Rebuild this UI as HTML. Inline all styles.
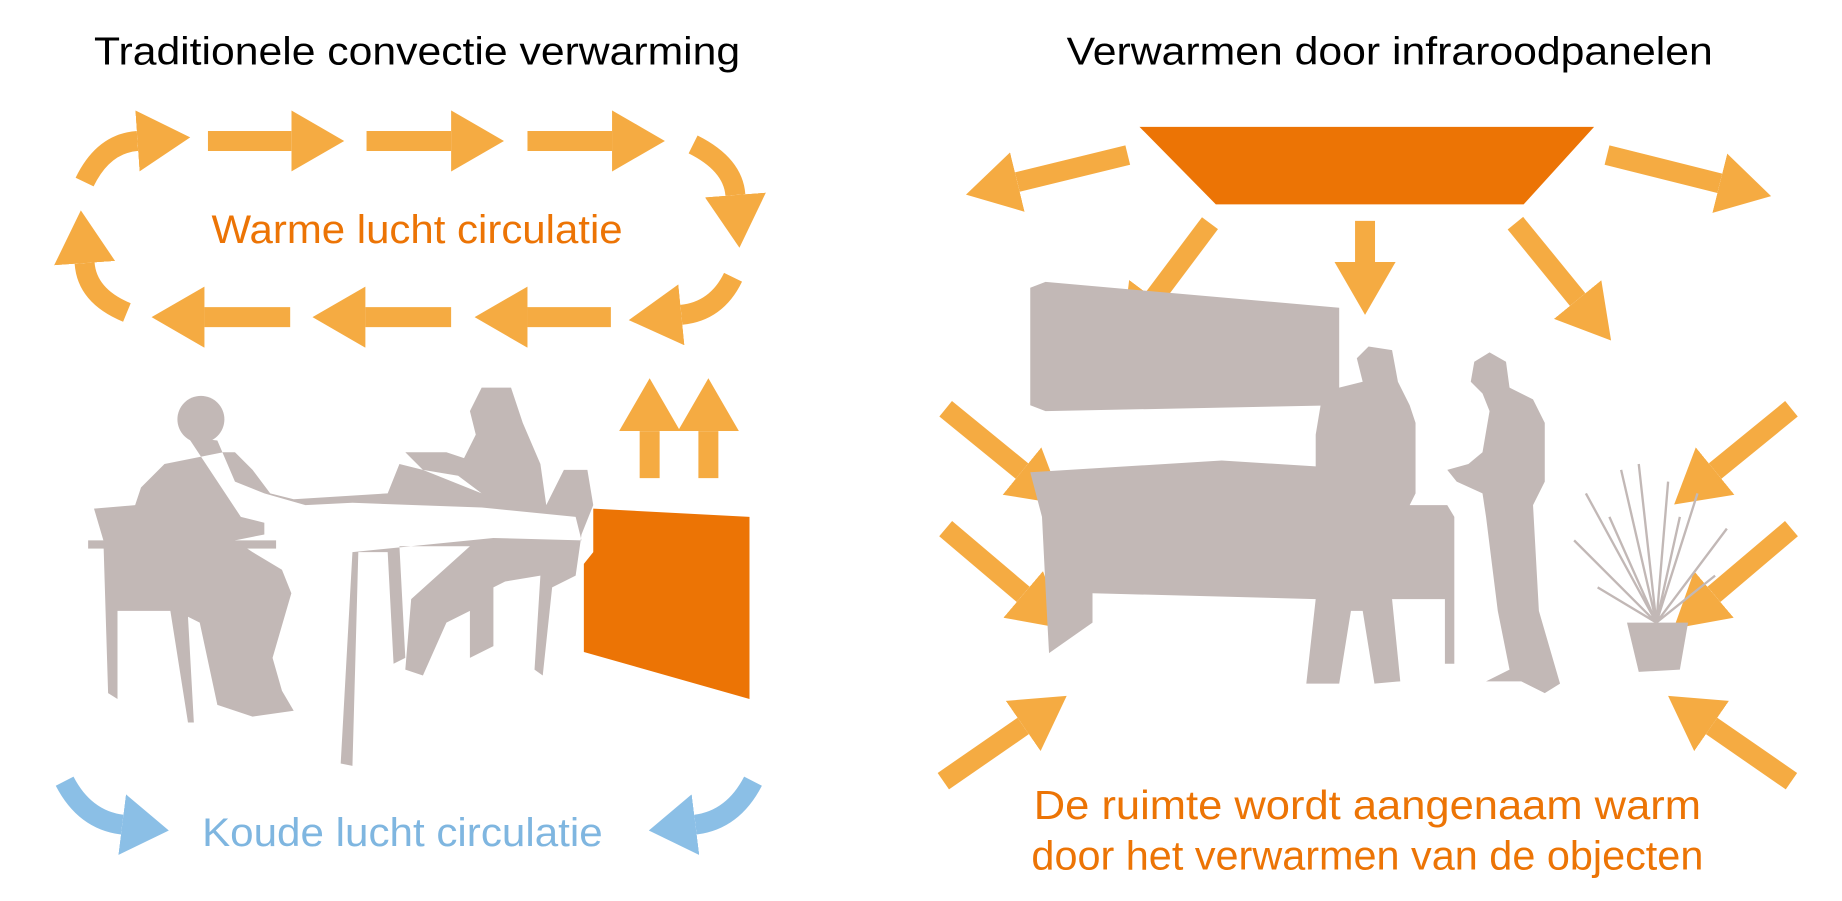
<!DOCTYPE html>
<html><head><meta charset="utf-8"><style>html,body{margin:0;padding:0;background:#fff}svg{display:block}</style></head>
<body>
<svg width="1842" height="901" viewBox="0 0 1568 767" xmlns="http://www.w3.org/2000/svg" font-family="Liberation Sans, sans-serif">
<defs>
<marker id="h" markerUnits="userSpaceOnUse" markerWidth="46" markerHeight="52" refX="0" refY="26" orient="auto"><path d="M0,0 L45,26 L0,52z" fill="#f5ab42"/></marker>
<marker id="b" markerUnits="userSpaceOnUse" markerWidth="46" markerHeight="52" refX="0" refY="26" orient="auto"><path d="M0,0 L40,26 L0,52z" fill="#8bbfe6"/></marker>
</defs>
<rect width="1568" height="767" fill="#fff"/>
<g fill="#000" font-size="33">
<text x="80" y="55" textLength="550" lengthAdjust="spacingAndGlyphs">Traditionele convectie verwarming</text>
<text x="908" y="55" textLength="550" lengthAdjust="spacingAndGlyphs">Verwarmen door infraroodpanelen</text>
</g>
<text x="180" y="207" font-size="34" fill="#ec7405" textLength="350" lengthAdjust="spacingAndGlyphs">Warme lucht circulatie</text>
<text x="172" y="720" font-size="34" fill="#7fb6e0" textLength="341" lengthAdjust="spacingAndGlyphs">Koude lucht circulatie</text>
<text x="880" y="697" font-size="35" fill="#ec7405" textLength="568" lengthAdjust="spacingAndGlyphs">De ruimte wordt aangenaam warm</text>
<text x="878" y="740" font-size="35" fill="#ec7405" textLength="572" lengthAdjust="spacingAndGlyphs">door het verwarmen van de objecten</text>

<g stroke="#f5ab42" stroke-width="17" fill="none" marker-end="url(#h)">
<line x1="177" y1="120" x2="248" y2="120"/>
<line x1="312" y1="120" x2="384" y2="120"/>
<line x1="449" y1="120" x2="521" y2="120"/>
<path d="M72,155 Q88,122 117,120"/>
<path d="M590,123 Q624,140 626,166"/>
<path d="M624,236 Q610,265 580,268"/>
<line x1="247" y1="270" x2="174" y2="270"/>
<line x1="384" y1="270" x2="311" y2="270"/>
<line x1="520" y1="270" x2="449" y2="270"/>
<path d="M108,266 Q74,252 72,224"/>
<line x1="553" y1="407" x2="553" y2="367"/>
<line x1="603" y1="407" x2="603" y2="367"/>
<line x1="960" y1="132" x2="866" y2="155"/>
<line x1="1368" y1="132" x2="1464" y2="156"/>
<line x1="1030" y1="190" x2="982" y2="254"/>
<line x1="1162" y1="188" x2="1162" y2="223"/>
<line x1="1290" y1="190" x2="1343" y2="255"/>
<line x1="805" y1="348" x2="870" y2="401"/>
<line x1="805" y1="450" x2="871" y2="506"/>
<line x1="803" y1="665" x2="871" y2="618"/>
<line x1="1525" y1="348" x2="1460" y2="401"/>
<line x1="1525" y1="450" x2="1459" y2="506"/>
<line x1="1525" y1="665" x2="1457" y2="618"/>
</g>
<g stroke="#8bbfe6" stroke-width="17" fill="none" marker-end="url(#b)">
<path d="M55,665 Q72,698 104,702"/>
<path d="M641,665 Q624,698 592,702"/>
</g>

<polygon points="505,433 638,440 638,595 497,555 497,480 505,470" fill="#ec7405"/>
<polygon points="970,108 1357,108 1297,174 1035,174" fill="#ec7405"/>

<g fill="#c2b8b6">
<!-- left scene -->
<circle cx="171" cy="357" r="20"/>
<polygon points="160,372 185,375 200,410 225,420 260,430 300,428 410,432 490,440 495,460 420,458 300,470 290,650 300,652 305,470 330,470 335,565 345,560 340,465 400,465 350,510 345,570 360,575 380,530 400,520 400,560 420,550 420,500 430,495 460,490 455,570 462,575 470,500 490,490 495,455 505,430 500,400 480,400 465,430 460,395 445,360 435,330 410,330 400,350 405,370 395,390 380,385 345,385 360,400 390,405 410,420 360,400 340,395 330,420 250,425 230,420 215,400 200,385 190,385 140,395 120,415 115,430 80,433 88,460 92,590 100,595 100,520 145,520 160,615 165,615 160,525 170,530 185,600 215,610 250,605 240,588 232,560 248,505 240,485 215,470 200,460 225,455 225,445 205,440"/>
<rect x="75" y="460" width="160" height="7"/>
<!-- right scene -->
<polygon points="877,245 890,240 1140,262 1140,345 890,350 877,345"/>
<polygon points="877,402 1040,392 1120,397 1120,370 1125,340 1140,330 1160,325 1155,305 1165,295 1185,298 1190,325 1200,345 1205,360 1205,420 1200,430 1232,430 1238,440 1238,565 1230,565 1230,510 1185,510 1192,580 1170,582 1160,520 1150,520 1140,582 1112,582 1120,510 930,505 930,530 893,556 890,500 887,440"/>
<polygon points="1255,308 1268,300 1282,308 1285,330 1305,340 1315,360 1315,410 1305,430 1310,520 1328,582 1315,590 1295,580 1265,580 1285,570 1275,520 1265,440 1262,420 1240,410 1232,400 1250,395 1262,385 1268,350 1262,335 1252,325"/>
<polygon points="1385,530 1437,530 1430,570 1395,572"/>
</g>
<g stroke="#c2b8b6" stroke-width="2" fill="none">
<path d="M1410,530 L1350,420 M1410,530 L1380,400 M1410,530 L1420,410 M1410,530 L1445,420 M1410,530 L1470,450 M1410,530 L1340,460 M1410,530 L1360,500 M1410,530 L1460,490 M1410,530 L1395,395 M1410,530 L1430,440 M1410,530 L1370,440"/>
</g>
</svg>
</body></html>
